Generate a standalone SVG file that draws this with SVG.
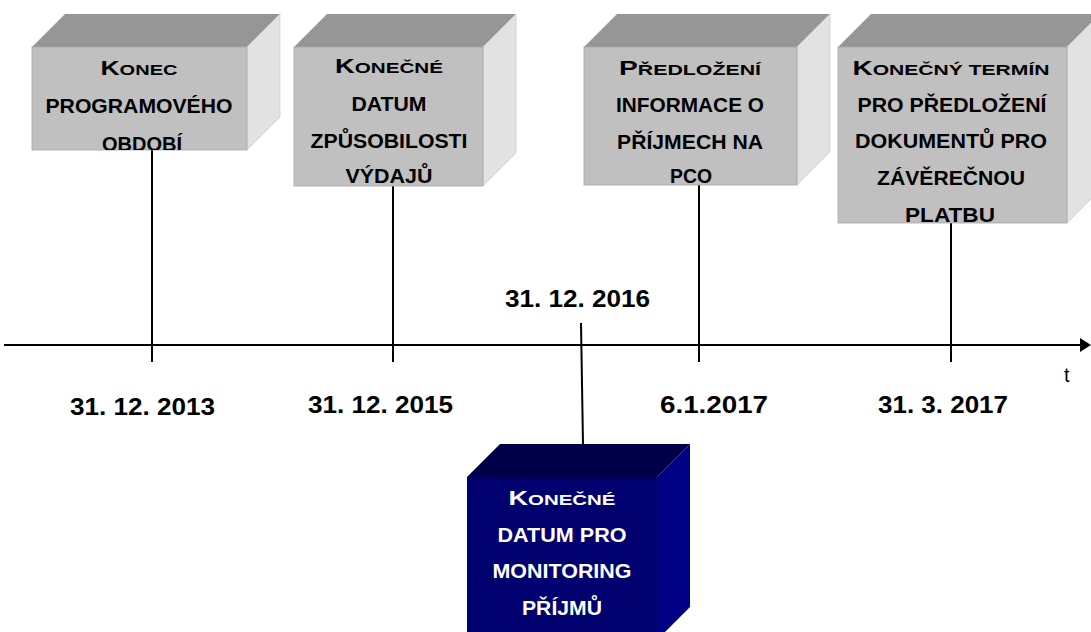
<svg xmlns="http://www.w3.org/2000/svg" width="1091" height="632" viewBox="0 0 1091 632">
<style>
.front{fill:#c0c0c0;stroke:#a9a9a9;stroke-width:0.8}
.top{fill:#969696}
.side{fill:#e2e2e2;stroke:#cfcfcf;stroke-width:0.8}
.nfront{fill:#00006e}
.ntop{fill:#000048}
.nside{fill:#000082}
.bt{font-family:"Liberation Sans",Arial,sans-serif;font-weight:bold;font-size:20.5px;text-anchor:middle;fill:#000}
.wt{fill:#fff}
.sc{font-size:15.5px}
.date{font-family:"Liberation Sans",Arial,sans-serif;font-weight:bold;font-size:24px;fill:#000}
.line{stroke:#000;stroke-width:2;fill:none}
</style>
<defs>
<clipPath id="c1"><rect x="32" y="47" width="215" height="103"/></clipPath>
</defs>
<rect width="1091" height="632" fill="#fff"/>

<g id="connectors">
<line class="line" x1="4" y1="345" x2="1082" y2="345" stroke-width="3"/>
<polygon points="1080,338 1091,345 1080,352" fill="#000"/>
<line class="line" x1="152" y1="150" x2="152" y2="362"/>
<line class="line" x1="393" y1="186" x2="393" y2="362"/>
<line class="line" x1="699" y1="185" x2="699" y2="362"/>
<line class="line" x1="951" y1="223" x2="951" y2="362"/>
<line class="line" x1="581" y1="323" x2="583" y2="445"/>
</g>

<g id="node1">
<polygon class="top" points="32,47 65,14 280,14 247,47"/>
<polygon class="side" points="247,47 280,14 280,117 247,150"/>
<rect class="front" x="32" y="47" width="215" height="103"/>
<g clip-path="url(#c1)">
<text class="bt" x="139" y="75" textLength="77" lengthAdjust="spacingAndGlyphs">K<tspan class="sc">ONEC</tspan></text>
<text class="bt" x="139" y="113" textLength="187" lengthAdjust="spacingAndGlyphs">PROGRAMOVÉHO</text>
<text class="bt" x="142" y="151" textLength="80" lengthAdjust="spacingAndGlyphs">OBDOBÍ</text>
</g>
</g>

<g id="node2">
<polygon class="top" points="294,47 327,14 516,14 483,47"/>
<polygon class="side" points="483,47 516,14 516,153 483,186"/>
<rect class="front" x="294" y="47" width="189" height="139"/>
<text class="bt" x="389" y="73" textLength="108" lengthAdjust="spacingAndGlyphs">K<tspan class="sc">ONEČNÉ</tspan></text>
<text class="bt" x="389" y="111" textLength="75" lengthAdjust="spacingAndGlyphs">DATUM</text>
<text class="bt" x="389" y="148" textLength="157" lengthAdjust="spacingAndGlyphs">ZPŮSOBILOSTI</text>
<text class="bt" x="389" y="183" textLength="87" lengthAdjust="spacingAndGlyphs">VÝDAJŮ</text>
</g>

<g id="node3">
<polygon class="top" points="584,47 617,14 830,14 797,47"/>
<polygon class="side" points="797,47 830,14 830,152 797,185"/>
<rect class="front" x="584" y="47" width="213" height="138"/>
<text class="bt" x="690" y="75" textLength="142" lengthAdjust="spacingAndGlyphs">P<tspan class="sc">ŘEDLOŽENÍ</tspan></text>
<text class="bt" x="690" y="112" textLength="148" lengthAdjust="spacingAndGlyphs">INFORMACE O</text>
<text class="bt" x="690" y="149" textLength="146" lengthAdjust="spacingAndGlyphs">PŘÍJMECH NA</text>
<text class="bt" x="691" y="183" textLength="42" lengthAdjust="spacingAndGlyphs">PCO</text>
</g>

<g id="node4">
<polygon class="top" points="838,47 871,14 1100,14 1067,47"/>
<polygon class="side" points="1067,47 1100,14 1100,190 1067,223"/>
<rect class="front" x="838" y="47" width="229" height="176"/>
<text class="bt" x="951" y="75" textLength="197" lengthAdjust="spacingAndGlyphs">K<tspan class="sc">ONEČNÝ TERMÍN</tspan></text>
<text class="bt" x="952" y="112" textLength="189" lengthAdjust="spacingAndGlyphs">PRO PŘEDLOŽENÍ</text>
<text class="bt" x="951" y="148" textLength="192" lengthAdjust="spacingAndGlyphs">DOKUMENTŮ PRO</text>
<text class="bt" x="951" y="185" textLength="148" lengthAdjust="spacingAndGlyphs">ZÁVĚREČNOU</text>
<text class="bt" x="950" y="222" textLength="90" lengthAdjust="spacingAndGlyphs">PLATBU</text>
</g>

<g id="node5">
<polygon class="ntop" points="467,477 500,444 690,444 657,477"/>
<polygon class="nside" points="657,477 690,444 690,607 657,640"/>
<rect class="nfront" x="467" y="477" width="190" height="163"/>
<text class="bt wt" x="562" y="505" textLength="107" lengthAdjust="spacingAndGlyphs">K<tspan class="sc">ONEČNÉ</tspan></text>
<text class="bt wt" x="562" y="542" textLength="129" lengthAdjust="spacingAndGlyphs">DATUM PRO</text>
<text class="bt wt" x="562" y="578" textLength="139" lengthAdjust="spacingAndGlyphs">MONITORING</text>
<text class="bt wt" x="562" y="615" textLength="80" lengthAdjust="spacingAndGlyphs">PŘÍJMŮ</text>
</g>

<g id="labels">
<text class="date" x="70" y="415" textLength="145" lengthAdjust="spacingAndGlyphs">31. 12. 2013</text>
<text class="date" x="308" y="413" textLength="145" lengthAdjust="spacingAndGlyphs">31. 12. 2015</text>
<text class="date" x="505" y="307" textLength="145" lengthAdjust="spacingAndGlyphs">31. 12. 2016</text>
<text class="date" x="660" y="413" textLength="108" lengthAdjust="spacingAndGlyphs">6.1.2017</text>
<text class="date" x="878" y="413" textLength="130" lengthAdjust="spacingAndGlyphs">31. 3. 2017</text>
<text x="1064" y="382" font-family="'Liberation Sans',Arial,sans-serif" font-size="20" fill="#000">t</text>
</g>
</svg>
